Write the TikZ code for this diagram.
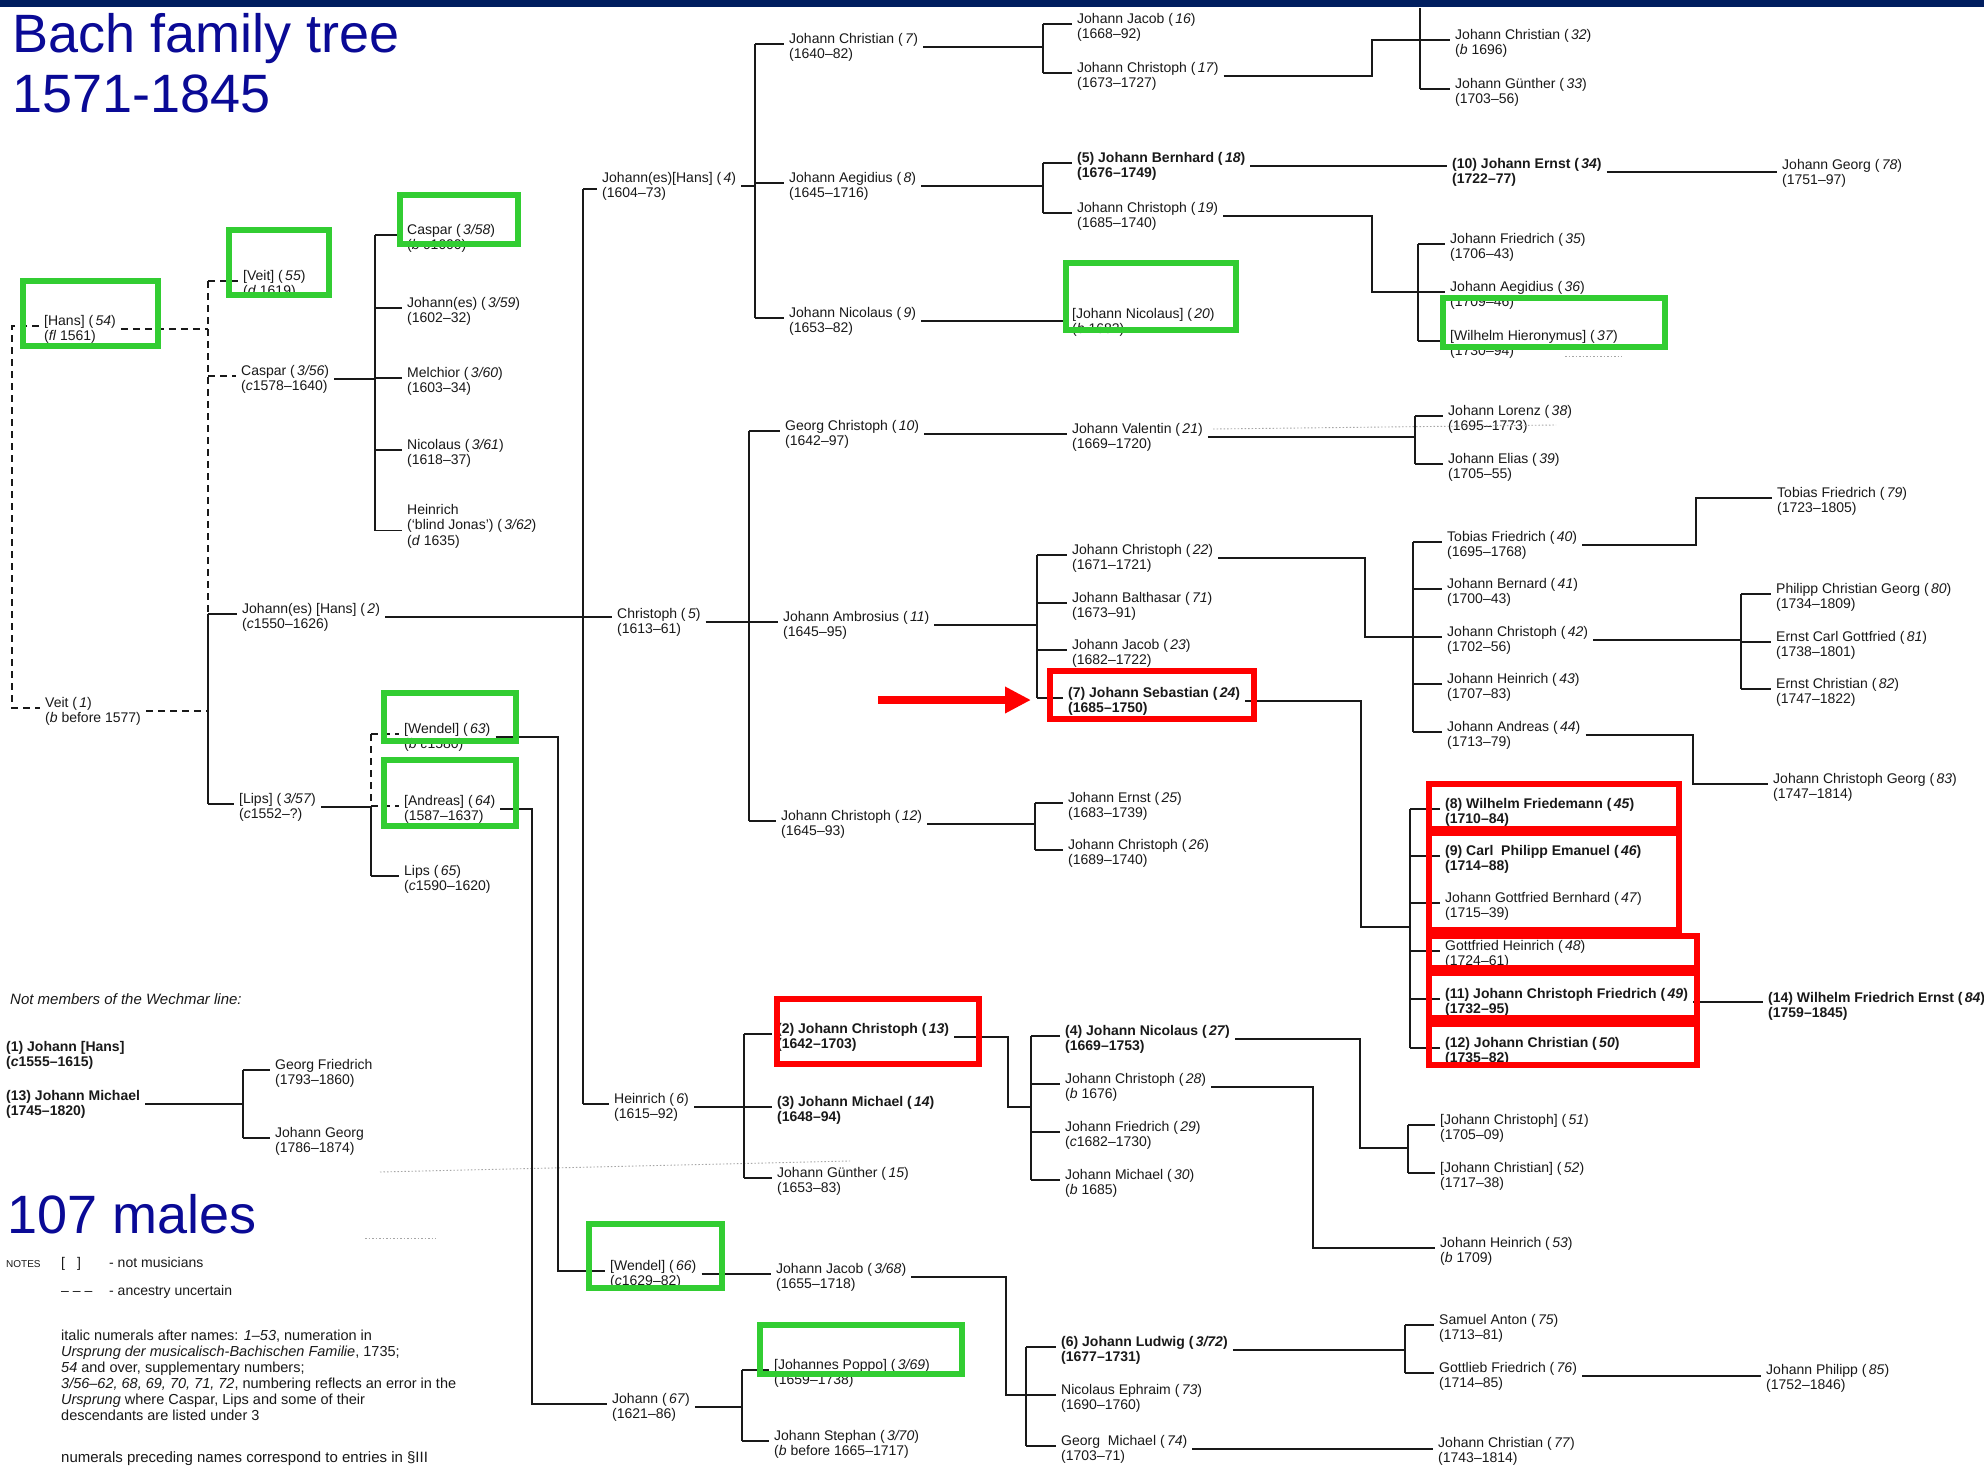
\documentclass[tikz,border=0pt]{standalone}
\usepackage{fontspec}
\setmainfont{Liberation Sans}
\usetikzlibrary{arrows.meta}
\definecolor{ink}{RGB}{25,25,25}
\definecolor{navy}{RGB}{0,30,95}
\definecolor{ttl}{RGB}{10,10,150}
\definecolor{gbx}{RGB}{50,205,50}
\definecolor{rbx}{RGB}{255,0,0}
\newcommand{\twol}[1]{\begin{tabular}[t]{@{}l@{}}#1\end{tabular}}
\newcommand{\nmb}[1]{(\,\textit{#1})}
\tikzset{
 pnode/.style={anchor=base west, inner xsep=5pt, inner ysep=0pt, text=ink, font=\fontsize{14}{15.5}\selectfont},
 bnode/.style={font=\fontsize{14}{15.5}\selectfont\bfseries},
 conn/.style={draw=ink, line width=1.4pt},
 dsh/.style={dash pattern=on 7pt off 5pt},
 gbox/.style={draw=gbx, line width=5.5pt},
 rbox/.style={draw=rbx, line width=5.5pt},
 faint/.style={draw=black!35, line width=0.9pt, dash pattern=on 1.5pt off 2pt},
}
\newcommand{\mkp}[5][]{%
  \node[pnode,#1] (#2) at ({#3-5},{#4+5}) {\twol{#5}};
  \coordinate (#2-l) at ([yshift=-1pt]#2.base west);
  \coordinate (#2-r) at ([yshift=-4pt]#2.base east);}
\newcommand{\tck}[3][]{\draw[conn,#1] (#3-l -| #2) -- (#3-l);}
\begin{document}
\begin{tikzpicture}[x=1pt,y=-1pt]
\useasboundingbox (0,0) rectangle (1984,1467);
\clip (0,0) rectangle (1984,1467);
\fill[white] (0,0) rectangle (1984,1467);
\fill[navy] (0,0) rectangle (1984,7);

% titles
\node[anchor=base west, inner sep=0pt, text=ttl, font=\fontsize{54}{60}\selectfont] (title) at (12,52) {\twol{Bach family tree\\1571-1845}};
\node[anchor=base west, inner sep=0pt, text=ttl, font=\fontsize{54}{60}\selectfont] (males) at (7,1233) {107 males};

% column A/B/C
\mkp{hans54}{44}{320}{[Hans] \nmb{54}\\(\textit{fl} 1561)}
\mkp{veit1}{45}{702}{Veit \nmb{1}\\(\textit{b} before 1577)}
\mkp{veit55}{243}{275}{[Veit] \nmb{55}\\(\textit{d} 1619)}
\mkp{caspar56}{241}{370}{Caspar \nmb{3/56}\\(\textit{c}1578--1640)}
\mkp{hans2}{242}{608}{Johann(es) [Hans] \nmb{2}\\(\textit{c}1550--1626)}
\mkp{lips57}{239}{798}{[Lips] \nmb{3/57}\\(\textit{c}1552--?)}
\mkp{caspar58}{407}{229}{Caspar \nmb{3/58}\\(\textit{b} \textit{c}1600)}
\mkp{johannes59}{407}{302}{Johann(es) \nmb{3/59}\\(1602--32)}
\mkp{melchior60}{407}{372}{Melchior \nmb{3/60}\\(1603--34)}
\mkp{nicolaus61}{407}{444}{Nicolaus \nmb{3/61}\\(1618--37)}
\mkp{heinrich62}{407}{509}{Heinrich\\(`blind Jonas') \nmb{3/62}\\(\textit{d} 1635)}
\mkp{wendel63}{404}{728}{[Wendel] \nmb{63}\\(\textit{b} \textit{c}1580)}
\mkp{andreas64}{404}{800}{[Andreas] \nmb{64}\\(1587--1637)}
\mkp{lips65}{404}{870}{Lips \nmb{65}\\(\textit{c}1590--1620)}
\coordinate (hein2) at ([yshift=-16.5pt]heinrich62.base west);

% column D
\mkp{hans4}{602}{177}{Johann(es)[Hans] \nmb{4}\\(1604--73)}
\mkp{christoph5}{617}{613}{Christoph \nmb{5}\\(1613--61)}
\mkp{heinrich6}{614}{1098}{Heinrich \nmb{6}\\(1615--92)}
\mkp{wendel66}{610}{1265}{[Wendel] \nmb{66}\\(\textit{c}1629--82)}
\mkp{johann67}{612}{1398}{Johann \nmb{67}\\(1621--86)}
\coordinate (hans4-t) at ([yshift=-7pt]hans4.base west);

% column E
\mkp{jc7}{789}{38}{Johann Christian \nmb{7}\\(1640--82)}
\mkp{ja8}{789}{177}{Johann Aegidius \nmb{8}\\(1645--1716)}
\mkp{jn9}{789}{312}{Johann Nicolaus \nmb{9}\\(1653--82)}
\mkp{gc10}{785}{425}{Georg Christoph \nmb{10}\\(1642--97)}
\mkp{ja11}{783}{616}{Johann Ambrosius \nmb{11}\\(1645--95)}
\mkp{jc12}{781}{815}{Johann Christoph \nmb{12}\\(1645--93)}
\mkp[bnode]{jc13}{777}{1028}{(2) Johann Christoph \nmb{13}\\(1642--1703)}
\mkp[bnode]{jm14}{777}{1101}{(3) Johann Michael \nmb{14}\\(1648--94)}
\mkp{jg15}{777}{1172}{Johann Günther \nmb{15}\\(1653--83)}
\mkp{jj68}{776}{1268}{Johann Jacob \nmb{3/68}\\(1655--1718)}
\mkp{poppo69}{774}{1364}{[Johannes Poppo] \nmb{3/69}\\(1659--1738)}
\mkp{js70}{774}{1435}{Johann Stephan \nmb{3/70}\\(\textit{b} before 1665--1717)}

% column F
\mkp{jj16}{1077}{18}{Johann Jacob \nmb{16}\\(1668--92)}
\mkp{jc17}{1077}{67}{Johann Christoph \nmb{17}\\(1673--1727)}
\mkp[bnode]{jb18}{1077}{157}{(5) Johann Bernhard \nmb{18}\\(1676--1749)}
\mkp{jc19}{1077}{207}{Johann Christoph \nmb{19}\\(1685--1740)}
\mkp{jn20}{1072}{313}{[Johann Nicolaus] \nmb{20}\\(\textit{b} 1682)}
\mkp{jv21}{1072}{428}{Johann Valentin \nmb{21}\\(1669--1720)}
\mkp{jc22}{1072}{549}{Johann Christoph \nmb{22}\\(1671--1721)}
\mkp{jb71}{1072}{597}{Johann Balthasar \nmb{71}\\(1673--91)}
\mkp{jj23}{1072}{644}{Johann Jacob \nmb{23}\\(1682--1722)}
\mkp[bnode]{js24}{1068}{692}{(7) Johann Sebastian \nmb{24}\\(1685--1750)}
\mkp{je25}{1068}{797}{Johann Ernst \nmb{25}\\(1683--1739)}
\mkp{jc26}{1068}{844}{Johann Christoph \nmb{26}\\(1689--1740)}
\mkp[bnode]{jn27}{1065}{1030}{(4) Johann Nicolaus \nmb{27}\\(1669--1753)}
\mkp{jc28}{1065}{1078}{Johann Christoph \nmb{28}\\(\textit{b} 1676)}
\mkp{jf29}{1065}{1126}{Johann Friedrich \nmb{29}\\(\textit{c}1682--1730)}
\mkp{jm30}{1065}{1174}{Johann Michael \nmb{30}\\(\textit{b} 1685)}
\mkp[bnode]{jl72}{1061}{1341}{(6) Johann Ludwig \nmb{3/72}\\(1677--1731)}
\mkp{ne73}{1061}{1389}{Nicolaus Ephraim \nmb{73}\\(1690--1760)}
\mkp{gm74}{1061}{1440}{Georg\ \ Michael \nmb{74}\\(1703--71)}

% column G
\mkp{jc32}{1455}{34}{Johann Christian \nmb{32}\\(\textit{b} 1696)}
\mkp{jg33}{1455}{83}{Johann Günther \nmb{33}\\(1703--56)}
\mkp[bnode]{je34}{1452}{163}{(10) Johann Ernst \nmb{34}\\(1722--77)}
\mkp{jf35}{1450}{238}{Johann Friedrich \nmb{35}\\(1706--43)}
\mkp{ja36}{1450}{286}{Johann Aegidius \nmb{36}\\(1709--46)}
\mkp{wh37}{1450}{335}{[Wilhelm Hieronymus] \nmb{37}\\(1730--94)}
\mkp{jl38}{1448}{410}{Johann Lorenz \nmb{38}\\(1695--1773)}
\mkp{je39}{1448}{458}{Johann Elias \nmb{39}\\(1705--55)}
\mkp{tf40}{1447}{536}{Tobias Friedrich \nmb{40}\\(1695--1768)}
\mkp{jb41}{1447}{583}{Johann Bernard \nmb{41}\\(1700--43)}
\mkp{jc42}{1447}{631}{Johann Christoph \nmb{42}\\(1702--56)}
\mkp{jh43}{1447}{678}{Johann Heinrich \nmb{43}\\(1707--83)}
\mkp{ja44}{1447}{726}{Johann Andreas \nmb{44}\\(1713--79)}
\mkp[bnode]{wf45}{1445}{803}{(8) Wilhelm Friedemann \nmb{45}\\(1710--84)}
\mkp[bnode]{cpe46}{1445}{850}{(9) Carl\ \ Philipp Emanuel \nmb{46}\\(1714--88)}
\mkp{jgb47}{1445}{897}{Johann Gottfried Bernhard \nmb{47}\\(1715--39)}
\mkp{gh48}{1445}{945}{Gottfried Heinrich \nmb{48}\\(1724--61)}
\mkp[bnode]{jcf49}{1445}{993}{(11) Johann Christoph Friedrich \nmb{49}\\(1732--95)}
\mkp[bnode]{jc50}{1445}{1042}{(12) Johann Christian \nmb{50}\\(1735--82)}
\mkp{jc51}{1440}{1119}{[Johann Christoph] \nmb{51}\\(1705--09)}
\mkp{jc52}{1440}{1167}{[Johann Christian] \nmb{52}\\(1717--38)}
\mkp{jh53}{1440}{1242}{Johann Heinrich \nmb{53}\\(\textit{b} 1709)}
\mkp{sa75}{1439}{1319}{Samuel Anton \nmb{75}\\(1713--81)}
\mkp{gf76}{1439}{1367}{Gottlieb Friedrich \nmb{76}\\(1714--85)}
\mkp{jc77}{1438}{1442}{Johann Christian \nmb{77}\\(1743--1814)}

% column H
\mkp{jg78}{1782}{164}{Johann Georg \nmb{78}\\(1751--97)}
\mkp{tf79}{1777}{492}{Tobias Friedrich \nmb{79}\\(1723--1805)}
\mkp{pcg80}{1776}{588}{Philipp Christian Georg \nmb{80}\\(1734--1809)}
\mkp{ecg81}{1776}{636}{Ernst Carl Gottfried \nmb{81}\\(1738--1801)}
\mkp{ec82}{1776}{683}{Ernst Christian \nmb{82}\\(1747--1822)}
\mkp{jcg83}{1773}{778}{Johann Christoph Georg \nmb{83}\\(1747--1814)}
\mkp[bnode]{wfe84}{1768}{997}{(14) Wilhelm Friedrich Ernst \nmb{84}\\(1759--1845)}
\mkp{jp85}{1766}{1369}{Johann Philipp \nmb{85}\\(1752--1846)}

% not Wechmar line
\node[pnode, font=\fontsize{15}{16}\selectfont\itshape] (notwech) at (5,1004) {Not members of the Wechmar line:};
\mkp[bnode]{jh1}{6}{1046}{(1) Johann [Hans]\\(\textit{c}1555--1615)}
\mkp[bnode]{jm13}{6}{1095}{(13) Johann Michael\\(1745--1820)}
\mkp{gfr}{275}{1064}{Georg Friedrich\\(1793--1860)}
\mkp{jgeo}{275}{1132}{Johann Georg\\(1786--1874)}

% notes
\node[pnode, font=\fontsize{10}{11}\selectfont] (notesl) at (1,1267) {NOTES};
\node[pnode] (brk) at (56,1267) {[\hspace{12pt}]};
\node[pnode] (nmus) at (104,1267) {- not musicians};
\node[pnode] (dashes) at (56,1295) {-- -- --};
\node[pnode] (anc) at (104,1295) {- ancestry uncertain};
\node[pnode, font=\fontsize{14.5}{16}\selectfont] (para) at (56,1340) {\twol{italic numerals after names: \textit{1--53}, numeration in\\
\textit{Ursprung der musicalisch-Bachischen Familie}, 1735;\\
\textit{54} and over, supplementary numbers;\\
\textit{3/56--62, 68, 69, 70, 71, 72}, numbering reflects an error in the\\
\textit{Ursprung} where Caspar, Lips and some of their\\
descendants are listed under 3}};
\node[pnode, font=\fontsize{15}{16}\selectfont] (numer) at (56,1462) {numerals preceding names correspond to entries in §III};

% bracket x positions
\coordinate (xL) at (12,0);
\coordinate (xV) at (208,0);
\coordinate (xC) at (375,0);
\coordinate (xLi) at (371,0);
\coordinate (xW) at (558,0);
\coordinate (xA) at (532,0);
\coordinate (xH2) at (583,0);
\coordinate (xH4) at (755,0);
\coordinate (xC5) at (749,0);
\coordinate (xH6) at (744,0);
\coordinate (xJ67) at (742,0);
\coordinate (xJC7) at (1043,0);
\coordinate (xJA8) at (1043,0);
\coordinate (xJA11) at (1037,0);
\coordinate (xJC12) at (1035,0);
\coordinate (xS13) at (1008,0);
\coordinate (xJC13) at (1031,0);
\coordinate (xS68) at (1006,0);
\coordinate (xJJ68) at (1026,0);
\coordinate (xS17) at (1372,0);
\coordinate (xJC17) at (1420,0);
\coordinate (xJC19) at (1418,0);
\coordinate (xJV21) at (1415,0);
\coordinate (xS22) at (1365,0);
\coordinate (xJC22) at (1413,0);
\coordinate (xS24) at (1361,0);
\coordinate (xJS24) at (1410,0);
\coordinate (xS27) at (1360,0);
\coordinate (xJN27) at (1408,0);
\coordinate (xS28) at (1313,0);
\coordinate (xJL72) at (1405,0);
\coordinate (xS40) at (1696,0);
\coordinate (xJC42) at (1741,0);
\coordinate (xS44) at (1693,0);
\coordinate (xJM13) at (243,0);
\coordinate (jsJ) at (1361,927);
\coordinate (jnJ) at (1360,1148);
\coordinate (topJ) at (1420,8);

% faint scan artefacts
\coordinate (dA) at (1213,429); \coordinate (dB) at (1556,425);
\draw[faint] (dA) -- (dB);
\coordinate (dC) at (380,1172); \coordinate (dD) at (850,1161);
\draw[faint] (dC) -- (dD);
\coordinate (dE) at (365,1238); \coordinate (dF) at (436,1238);
\draw[faint] (dE) -- (dF);
\coordinate (dG) at (1565,356); \coordinate (dH) at (1622,356);
\draw[faint] (dG) -- (dH);

% connectors: earliest generations
\draw[conn,dsh] (hans54-l) -- (hans54-l -| xL) -- (veit1-l -| xL) -- (veit1-l);
\draw[conn,dsh] (hans54-r) -- (hans54-r -| xV);
\draw[conn,dsh] (veit1-r) -- (veit1-r -| xV);
\draw[conn,dsh] (veit55-l -| xV) -- (hans2-l -| xV);
\draw[conn] (hans2-l -| xV) -- (lips57-l -| xV);
\tck[dsh]{xV}{veit55} \tck[dsh]{xV}{caspar56} \tck{xV}{hans2} \tck{xV}{lips57}

\draw[conn] (caspar56-r) -- (caspar56-r -| xC);
\draw[conn] (caspar58-l -| xC) -- (hein2 -| xC);
\foreach \c in {caspar58,johannes59,melchior60,nicolaus61} {\tck{xC}{\c}}
\draw[conn] (hein2 -| xC) -- (hein2);

\draw[conn] (lips57-r) -- (lips57-r -| xLi);
\draw[conn,dsh] (wendel63-l -| xLi) -- (andreas64-l -| xLi);
\draw[conn] (andreas64-l -| xLi) -- (lips65-l -| xLi);
\tck[dsh]{xLi}{wendel63} \tck[dsh]{xLi}{andreas64} \tck{xLi}{lips65}

\draw[conn] (wendel63-r) -- (wendel63-r -| xW) -- (wendel66-l -| xW) -- (wendel66-l);
\draw[conn] (andreas64-r) -- (andreas64-r -| xA) -- (johann67-l -| xA) -- (johann67-l);

\draw[conn] (hans2-r) -- (hans2-r -| christoph5-l);
\draw[conn] (hans4-t -| xH2) -- (heinrich6-l -| xH2);
\draw[conn] (hans4-t -| xH2) -- (hans4-t);
\tck{xH2}{heinrich6}

% Johann(es)[Hans] (4)
\draw[conn] (hans4-r) -- (hans4-r -| xH4);
\draw[conn] (jc7-l -| xH4) -- (jn9-l -| xH4);
\foreach \c in {jc7,ja8,jn9} {\tck{xH4}{\c}}
% Christoph (5)
\draw[conn] (christoph5-r) -- (christoph5-r -| xC5);
\draw[conn] (gc10-l -| xC5) -- (jc12-l -| xC5);
\foreach \c in {gc10,ja11,jc12} {\tck{xC5}{\c}}
% Heinrich (6)
\draw[conn] (heinrich6-r) -- (heinrich6-r -| xH6);
\draw[conn] (jc13-l -| xH6) -- (jg15-l -| xH6);
\foreach \c in {jc13,jm14,jg15} {\tck{xH6}{\c}}
% Wendel (66), Johann (67)
\draw[conn] (wendel66-r) -- (wendel66-r -| jj68-l);
\draw[conn] (johann67-r) -- (johann67-r -| xJ67);
\draw[conn] (poppo69-l -| xJ67) -- (js70-l -| xJ67);
\foreach \c in {poppo69,js70} {\tck{xJ67}{\c}}

% next generation
\draw[conn] (jc7-r) -- (jc7-r -| xJC7);
\draw[conn] (jj16-l -| xJC7) -- (jc17-l -| xJC7);
\foreach \c in {jj16,jc17} {\tck{xJC7}{\c}}
\draw[conn] (ja8-r) -- (ja8-r -| xJA8);
\draw[conn] (jb18-l -| xJA8) -- (jc19-l -| xJA8);
\foreach \c in {jb18,jc19} {\tck{xJA8}{\c}}
\draw[conn] (jn9-r) -- (jn9-r -| jn20-l);
\draw[conn] (gc10-r) -- (gc10-r -| jv21-l);
\draw[conn] (ja11-r) -- (ja11-r -| xJA11);
\draw[conn] (jc22-l -| xJA11) -- (js24-l -| xJA11);
\foreach \c in {jc22,jb71,jj23,js24} {\tck{xJA11}{\c}}
\draw[conn] (jc12-r) -- (jc12-r -| xJC12);
\draw[conn] (je25-l -| xJC12) -- (jc26-l -| xJC12);
\foreach \c in {je25,jc26} {\tck{xJC12}{\c}}
\draw[conn] (jc13-r) -- (jc13-r -| xS13) -- (jm14-l -| xS13) -- (jm14-l -| xJC13);
\draw[conn] (jn27-l -| xJC13) -- (jm30-l -| xJC13);
\foreach \c in {jn27,jc28,jf29,jm30} {\tck{xJC13}{\c}}
\draw[conn] (jj68-r) -- (jj68-r -| xS68) -- (ne73-l -| xS68) -- (ne73-l -| xJJ68);
\draw[conn] (jl72-l -| xJJ68) -- (gm74-l -| xJJ68);
\foreach \c in {jl72,ne73,gm74} {\tck{xJJ68}{\c}}

% later generations
\draw[conn] (jc17-r) -- (jc17-r -| xS17) -- (jc32-l -| xS17) -- (jc32-l);
\draw[conn] (topJ) -- (jg33-l -| topJ);
\tck{xJC17}{jg33}
\draw[conn] (jb18-r) -- (jb18-r -| je34-l);
\draw[conn] (jc19-r) -- (jc19-r -| xS17) -- (ja36-l -| xS17) -- (ja36-l);
\draw[conn] (jf35-l -| xJC19) -- (wh37-l -| xJC19);
\foreach \c in {jf35,wh37} {\tck{xJC19}{\c}}
\draw[conn] (jv21-r) -- (jv21-r -| xJV21);
\draw[conn] (jl38-l -| xJV21) -- (je39-l -| xJV21);
\foreach \c in {jl38,je39} {\tck{xJV21}{\c}}
\draw[conn] (jc22-r) -- (jc22-r -| xS22) -- (jc42-l -| xS22) -- (jc42-l);
\draw[conn] (tf40-l -| xJC22) -- (ja44-l -| xJC22);
\foreach \c in {tf40,jb41,jh43,ja44} {\tck{xJC22}{\c}}
\draw[conn] (js24-r) -- (js24-r -| xS24) -- (jsJ) -- (jsJ -| xJS24);
\draw[conn] (wf45-l -| xJS24) -- (jc50-l -| xJS24);
\foreach \c in {wf45,cpe46,jgb47,gh48,jcf49,jc50} {\tck{xJS24}{\c}}
\draw[conn] (jn27-r) -- (jn27-r -| xS27) -- (jnJ) -- (jnJ -| xJN27);
\draw[conn] (jc51-l -| xJN27) -- (jc52-l -| xJN27);
\foreach \c in {jc51,jc52} {\tck{xJN27}{\c}}
\draw[conn] (jc28-r) -- (jc28-r -| xS28) -- (jh53-l -| xS28) -- (jh53-l);
\draw[conn] (jl72-r) -- (jl72-r -| xJL72);
\draw[conn] (sa75-l -| xJL72) -- (gf76-l -| xJL72);
\foreach \c in {sa75,gf76} {\tck{xJL72}{\c}}
\draw[conn] (gm74-r) -- (gm74-r -| jc77-l);
\draw[conn] (je34-r) -- (je34-r -| jg78-l);
\draw[conn] (tf40-r) -- (tf40-r -| xS40) -- (tf79-l -| xS40) -- (tf79-l);
\draw[conn] (jc42-r) -- (jc42-r -| xJC42);
\draw[conn] (pcg80-l -| xJC42) -- (ec82-l -| xJC42);
\foreach \c in {pcg80,ecg81,ec82} {\tck{xJC42}{\c}}
\draw[conn] (ja44-r) -- (ja44-r -| xS44) -- (jcg83-l -| xS44) -- (jcg83-l);
\draw[conn] (jcf49-r) -- (jcf49-r -| wfe84-l);
\draw[conn] (gf76-r) -- (gf76-r -| jp85-l);
\draw[conn] (jm13-r) -- (jm13-r -| xJM13);
\draw[conn] (gfr-l -| xJM13) -- (jgeo-l -| xJM13);
\foreach \c in {gfr,jgeo} {\tck{xJM13}{\c}}

% highlight boxes
\draw[gbox] (23,281) rectangle (158,346);
\draw[gbox] (229,230) rectangle (329,295);
\draw[gbox] (400,195) rectangle (518,244);
\draw[gbox] (384,693) rectangle (516,741);
\draw[gbox] (384,760) rectangle (516,826);
\draw[gbox] (1066,263) rectangle (1236,330);
\draw[gbox] (1443,298) rectangle (1665,347);
\draw[gbox] (589,1224) rectangle (722,1288);
\draw[gbox] (760,1325) rectangle (962,1374);
\draw[rbox] (777,999) rectangle (979,1064);
\draw[rbox] (1050,671) rectangle (1254,719);
\draw[rbox] (1429,784) rectangle (1679,829);
\draw[rbox] (1429,833) rectangle (1679,930);
\draw[rbox] (1429,936) rectangle (1697,968);
\draw[rbox] (1429,973) rectangle (1697,1018);
\draw[rbox] (1429,1024) rectangle (1697,1065);

% red arrow
\coordinate (arT) at (878,700);
\coordinate (arH) at (1031,700);
\draw[rbx, line width=8pt, -{Triangle[length=26pt,width=25pt]}] (arT) -- (arH);
\end{tikzpicture}
\end{document}
